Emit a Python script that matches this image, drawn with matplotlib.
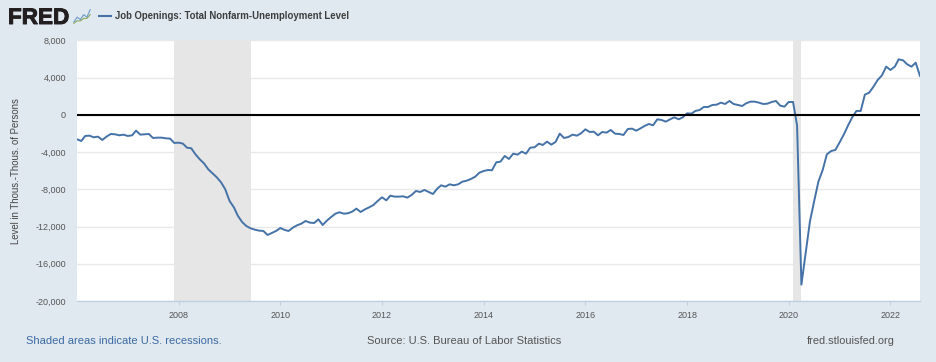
import numpy as np
import pandas as pd
import matplotlib
matplotlib.use("Agg")
import matplotlib.pyplot as plt
import matplotlib.patheffects as pe

plt.rcParams['font.family'] = ['Liberation Sans', 'DejaVu Sans']

# Job openings minus unemployment level, thousands, monthly from 2006-01
v2006 = [-2634, -2813, -2276, -2240, -2420, -2348, -2706, -2348, -2062, -2097, -2205, -2133]
v2007 = [-2276, -2205, -1704, -2133, -2097, -2062, -2491, -2455, -2455, -2527, -2563, -3028]
v2008 = [-2992, -3100, -3530, -3601, -4245, -4782, -5212, -5856, -6286, -6716, -7253, -8004]
v2009 = [-9257, -9938, -10833, -11513, -11942, -12193, -12336, -12444, -12479, -12909, -12694, -12479]
v2010 = [-12157, -12372, -12479, -12121, -11871, -11692, -11405, -11585, -11620, -11226, -11835, -11370]
v2011 = [-10976, -10618, -10470, -10618, -10582, -10403, -10081, -10439, -10152, -9938, -9687, -9257]
v2012 = [-8864, -9186, -8685, -8792, -8792, -8756, -8899, -8613, -8183, -8291, -8076, -8291]
v2013 = [-8506, -7933, -7575, -7718, -7467, -7575, -7467, -7181, -7074, -6895, -6644, -6214]
v2014 = [-6035, -5928, -5964, -5105, -5033, -4424, -4747, -4174, -4281, -3959, -4174, -3529]
v2015 = [-3494, -3100, -3243, -2885, -3207, -2921, -2026, -2491, -2384, -2133, -2241, -1990]
v2016 = [-1560, -1847, -1811, -2205, -1847, -1918, -1632, -2026, -2062, -2169, -1525, -1489]
v2017 = [-1704, -1450, -1202, -988, -1131, -486, -558, -737, -486, -272, -486, -272]
v2018 = [158, 122, 409, 516, 838, 838, 1053, 1089, 1304, 1160, 1483, 1160]
v2019 = [1053, 946, 1232, 1411, 1411, 1304, 1160, 1197, 1375, 1483, 981, 874]
v2020 = [1375, 1375, -1150, -18243, -14878, -11477, -9329, -7181, -5928, -4245, -3887, -3780]
v2021 = [-2950, -2080, -1180, -272, 409, 409, 2163, 2378, 3022, 3738, 4239, 5170]
v2022 = [4812, 5170, 5958, 5850, 5421, 5170, 5600, 4168]
values = (v2006 + v2007 + v2008 + v2009 + v2010 + v2011 + v2012 + v2013 + v2014
          + v2015 + v2016 + v2017 + v2018 + v2019 + v2020 + v2021 + v2022)
dates = pd.date_range('2006-01-01', periods=len(values), freq='MS')

recessions = [('2007-12-01', '2009-06-01'), ('2020-02-01', '2020-04-01')]
x_years = list(range(2008, 2024, 2))
y_ticks = list(range(-20000, 8001, 4000))

bg = '#e1e9f0'
blue = '#4572a7'
W, H = 936, 362

fig = plt.figure(figsize=(W / 100, H / 100), dpi=100, facecolor=bg)
ax = fig.add_axes([77 / W, 1 - 301 / H, (920 - 77) / W, (301 - 40.3) / H])
ax.set_facecolor('white')

ax.yaxis.grid(True, color='#e9e9e9', linewidth=1, zorder=1)
ax.set_axisbelow(True)
for start, end in recessions:
    ax.axvspan(pd.Timestamp(start), pd.Timestamp(end), color='#e6e6e6', linewidth=0, zorder=2)
ax.plot(dates, values, color=blue, linewidth=1.4, zorder=3, solid_joinstyle='round')
ax.axhline(0, color='black', linewidth=1.5, zorder=4)

ax.set_xlim(dates[0], dates[-1])
ax.set_ylim(-20000, 8000)
ax.set_yticks(y_ticks)
ax.set_yticklabels([f'{t:,}' for t in y_ticks], fontsize=6.5, color='#555555')
ax.set_xticks([pd.Timestamp(f'{y}-01-01') for y in x_years])
ax.set_xticklabels([str(y) for y in x_years], fontsize=6.5, color='#555555')
ax.tick_params(axis='y', length=0, pad=8)
ax.tick_params(axis='x', length=3, width=0.8, color='#c0d0e0', pad=4)
for side in ['top', 'right', 'left']:
    ax.spines[side].set_visible(False)
ax.spines['bottom'].set_color('#c0d0e0')
ax.spines['bottom'].set_linewidth(1)
ax.set_ylabel('Level in Thous.-Thous. of Persons', fontsize=6.9, color='#444444')
ax.yaxis.set_label_coords((21 - 77) / (920 - 77), 0.5)

# header
logo = fig.text(8 / W, 1 - 24 / H, 'FRED', fontsize=16.2, fontweight='bold', color='#231f20', va='baseline')
logo.set_path_effects([pe.withStroke(linewidth=0.7, foreground='#231f20')])
icon = fig.add_axes([73 / W, 1 - 24 / H, 18 / W, 15 / H], facecolor='#eef2f5')
icon.plot([0, 1, 2, 3, 4, 5], [1, 3, 2, 4, 3, 6], color='#6d9ac9', linewidth=0.8)
icon.plot([0, 1, 2, 3, 4, 5], [0.5, 1.5, 1.5, 2.5, 2.5, 4], color='#8aa85c', linewidth=0.8)
icon.set_axis_off()
icon.patch.set_visible(True)
fig.add_artist(plt.Line2D([99 / W, 111 / W], [1 - 16 / H, 1 - 16 / H], color=blue, linewidth=1.5))
fig.text(115 / W, 1 - 16 / H, 'Job Openings: Total Nonfarm-Unemployment Level', fontsize=6.95,
         fontweight='bold', color='#3d3d3d', va='center')

# footer
fig.text(26 / W, 1 - 341 / H, 'Shaded areas indicate U.S. recessions.', fontsize=8.05, color='#3c6aa3', va='center')
fig.text(367 / W, 1 - 341 / H, 'Source: U.S. Bureau of Labor Statistics', fontsize=8.0, color='#555555', va='center')
fig.text(895 / W, 1 - 341 / H, 'fred.stlouisfed.org', fontsize=7.9, color='#555555', va='center', ha='right')

fig.savefig('out.png', dpi=100, facecolor=bg)
